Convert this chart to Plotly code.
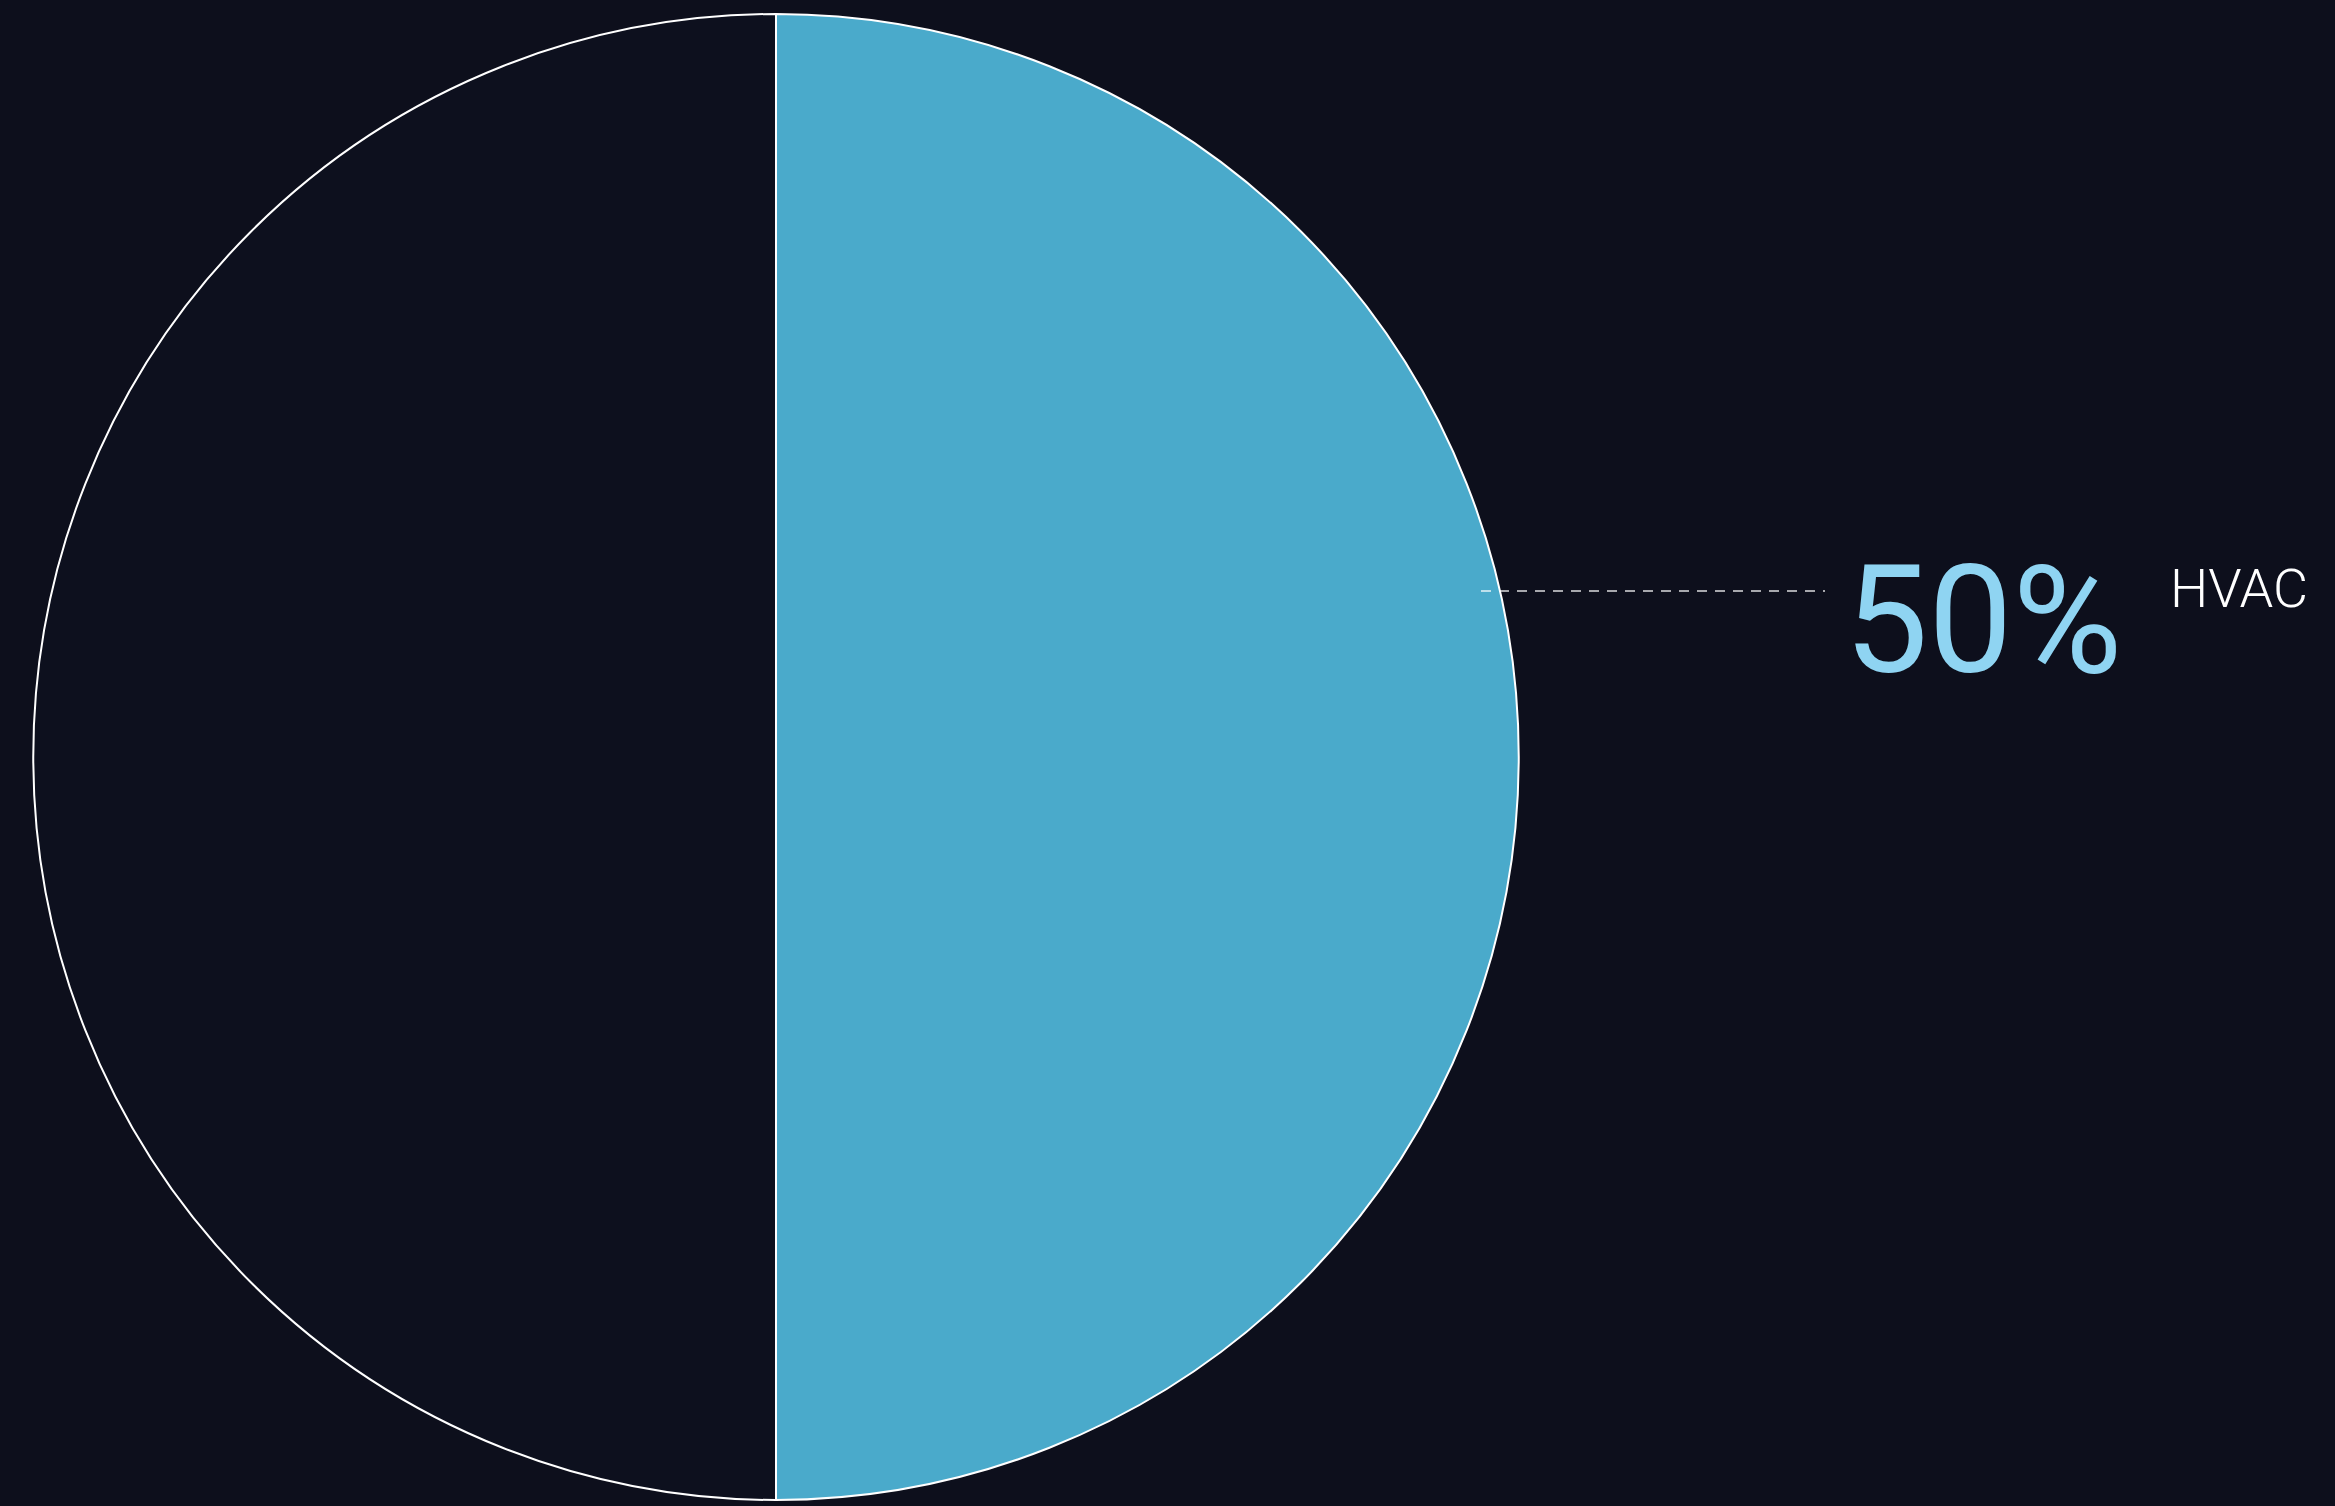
import plotly.graph_objects as go

# Data
categories = ["HVAC", "Other"]
values = [50, 50]
slice_colors = ["#4aaacb", "#0d101e"]
label_category = "HVAC"

W, H = 2335, 1506
BG = "#0d0f1c"

share = values[0] / sum(values) * 100

fig = go.Figure(go.Pie(
    labels=categories,
    values=values,
    sort=False,
    direction="clockwise",
    rotation=0,
    textinfo="none",
    hoverinfo="label+percent",
    marker=dict(colors=slice_colors, line=dict(color="#ffffff", width=2)),
    domain=dict(x=[(776 - 743) / W, (776 + 743) / W],
                y=[(H - 757 - 743) / H, (H - 757 + 743) / H]),
    showlegend=False,
))

# leader line
fig.add_shape(type="line", xref="paper", yref="paper",
              x0=1481 / W, x1=1825 / W, y0=1 - 591 / H, y1=1 - 591 / H,
              line=dict(color="rgba(255,255,255,0.85)", width=1.5, dash="10px,8px"))

fig.add_annotation(xref="paper", yref="paper", x=1842 / W, y=1 - 621 / H,
                   xanchor="left", yanchor="middle", showarrow=False,
                   text=f"{share:.0f}%",
                   font=dict(family="Roboto", size=150, color="#8fd4f2", weight=400))
fig.add_annotation(xref="paper", yref="paper", x=2168 / W, y=1 - 588 / H,
                   xanchor="left", yanchor="middle", showarrow=False,
                   text=label_category,
                   font=dict(family="Roboto", size=54, color="#ffffff", weight=300))

fig.update_layout(width=W, height=H, margin=dict(l=0, r=0, t=0, b=0),
                  paper_bgcolor=BG, plot_bgcolor=BG)

fig.write_html("out.html",
               config={"displayModeBar": False},
               post_script="document.body.style.margin='0';"
                           "document.body.style.background='#0d0f1c';"
                           "document.documentElement.style.background='#0d0f1c';"
                           "document.body.style.overflow='hidden';")
